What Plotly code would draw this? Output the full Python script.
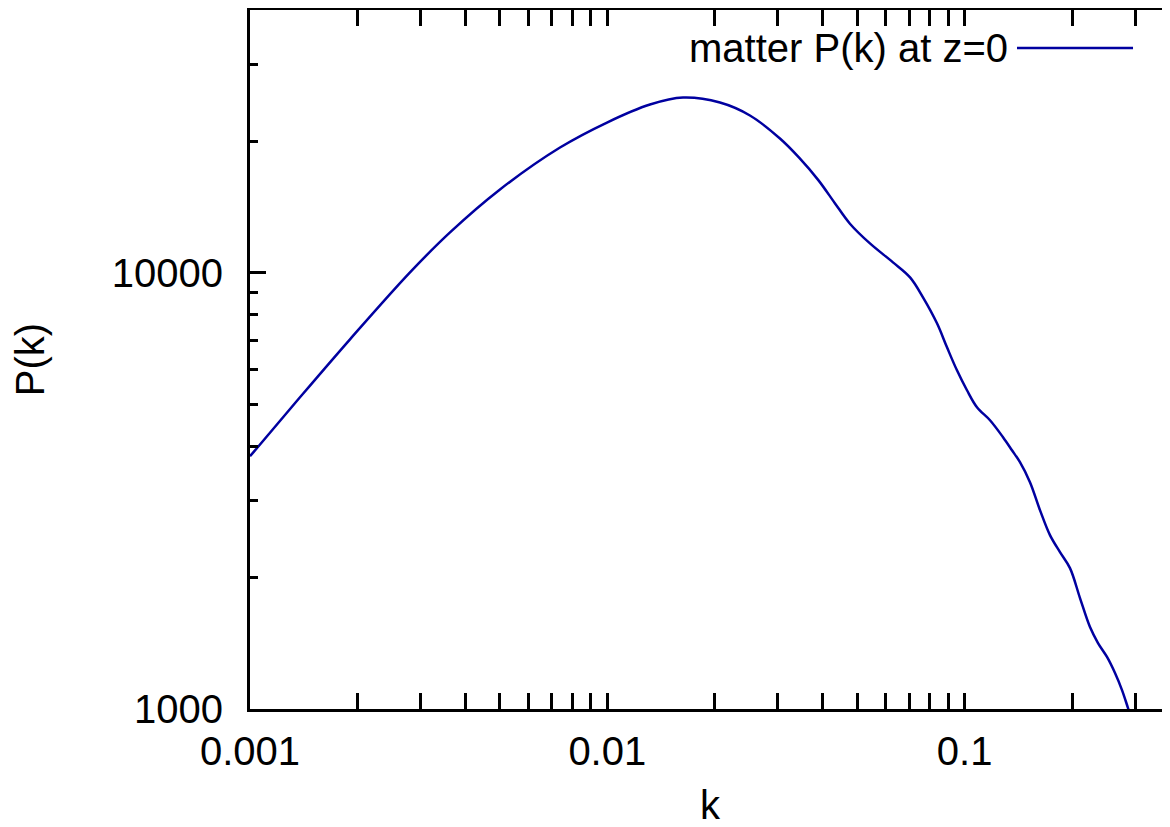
import plotly.graph_objects as go

# matter power spectrum
k_vals = [0.001000, 0.001380, 0.001905, 0.002804, 0.003629, 0.005008, 0.007373,
          0.009981, 0.013166, 0.016288, 0.020668, 0.025075, 0.030424, 0.034420,
          0.038960, 0.043300, 0.047764, 0.054340, 0.063021, 0.070358, 0.076477,
          0.083707, 0.089275, 0.095208, 0.10155, 0.10831, 0.11779, 0.12810,
          0.13571, 0.14289, 0.15241, 0.16255, 0.17338, 0.18493, 0.19724,
          0.21038, 0.22439, 0.23627, 0.25036, 0.26363, 0.27580, 0.28669, 0.29600]
pk_vals = [3795, 5181, 7036, 10016, 12370, 15515, 19360,
           22090, 24290, 25200, 24547, 22925, 20300, 18350,
           16300, 14450, 12950, 11670, 10560, 9754, 8780,
           7655, 6744, 5973, 5377, 4915, 4589, 4197,
           3918, 3678, 3310, 2856, 2503, 2288, 2103,
           1796, 1541, 1416, 1316, 1209, 1105, 1005, 929]

x_major = [0.001, 0.01, 0.1]
x_labels = ['0.001', '0.01', '0.1']
y_major = [1000, 10000]
y_labels = ['1000', '10000']
legend_text = 'matter P(k) at z=0'

x_minor = [m * d for d in (0.001, 0.01, 0.1) for m in range(2, 10)]
y_minor = [m * d for d in (1000, 10000) for m in range(2, 10)]

line_color = '#0000a0'
font = dict(family='Liberation Sans, Arial, sans-serif', size=40, color='black')

fig = go.Figure()
fig.add_trace(go.Scatter(
    x=k_vals, y=pk_vals, mode='lines',
    line=dict(color=line_color, width=2.5, shape='spline', smoothing=1.0),
    showlegend=False, hoverinfo='skip'
))
# invisible copy so the right-hand axis stub gets drawn
fig.add_trace(go.Scatter(
    x=k_vals, y=pk_vals, mode='lines', yaxis='y2',
    line=dict(color='rgba(0,0,0,0)', width=0),
    showlegend=False, hoverinfo='skip'
))

# page body has an 8px margin, so the figure is 8px smaller than the window
fig.update_layout(
    width=1162, height=819,
    margin=dict(l=242, r=0, t=2, b=118),
    paper_bgcolor='white', plot_bgcolor='white',
    font=font,
    xaxis=dict(
        type='log', range=[-3, -0.4251],
        tickvals=x_major, ticktext=x_labels,
        ticks='inside', ticklen=16, tickwidth=2.5, tickcolor='black',
        minor=dict(tickvals=x_minor, ticks='inside', ticklen=8,
                   tickwidth=2.5, tickcolor='black', showgrid=False),
        showline=True, linewidth=3, linecolor='black', mirror='allticks',
        showgrid=False, zeroline=False, ticklabelstandoff=5,
        title=dict(text='k', font=font, standoff=20),
    ),
    yaxis=dict(
        type='log', range=[3, 4.60206],
        tickvals=y_major, ticktext=y_labels,
        ticks='inside', ticklen=16, tickwidth=2.5, tickcolor='black',
        minor=dict(tickvals=y_minor, ticks='inside', ticklen=8,
                   tickwidth=2.5, tickcolor='black', showgrid=False),
        showline=True, linewidth=3, linecolor='black', mirror=False,
        showgrid=False, zeroline=False, ticklabelstandoff=16,
        title=dict(text='P(k)', font=font, standoff=62),
    ),
    yaxis2=dict(
        type='log', range=[3, 4.60206], overlaying='y', side='right',
        tickvals=[10000], ticks='inside', ticklen=8, tickwidth=3,
        tickcolor='black', showticklabels=False, showline=False,
        showgrid=False, zeroline=False,
    ),
)

# key: text on the left, line sample on the right, as in the original
fig.add_annotation(
    x=0.8261, y=0.9456, xref='paper', yref='paper',
    text=legend_text, showarrow=False, xanchor='right', yanchor='middle',
    font=font
)
fig.add_shape(
    type='line', xref='paper', yref='paper',
    x0=0.8337, x1=0.9598, y0=0.9456, y1=0.9456,
    line=dict(color=line_color, width=2.5)
)

fig.write_html('out.html')
